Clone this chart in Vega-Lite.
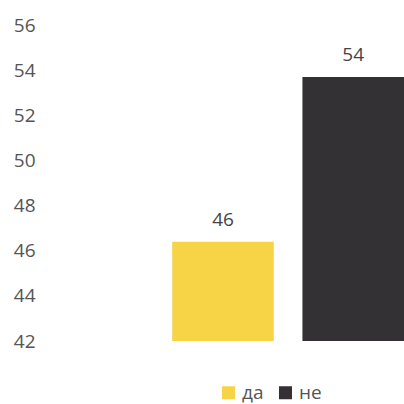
{
  "$schema": "https://vega.github.io/schema/vega-lite/v6.json",
  "autosize": "none",
  "width": 362,
  "height": 316,
  "padding": {"left": 42, "top": 25, "right": 0, "bottom": 63},
  "config": {"view": {"stroke": null}, "font": "Open Sans"},
  "data": {"values": [
    {"answer": "да", "pct": 46.4},
    {"answer": "не", "pct": 53.7}
  ]},
  "encoding": {
    "x": {"field": "answer", "type": "nominal", "axis": null,
      "scale": {"domain": ["да", "не"], "paddingInner": 0.22, "paddingOuter": 0.5, "align": 1}},
    "y": {"field": "pct", "type": "quantitative",
      "scale": {"domain": [42, 56], "zero": false, "nice": false},
      "axis": {"values": [42, 44, 46, 48, 50, 52, 54, 56], "title": null, "domain": false, "ticks": false, "grid": false,
        "labelFontSize": 19, "labelColor": "#555555", "labelPadding": 7, "labelFont": "Open Sans"}}
  },
  "layer": [
    {"mark": {"type": "bar", "clip": true},
     "encoding": {"color": {"field": "answer", "type": "nominal",
       "scale": {"domain": ["да", "не"], "range": ["#F7D346", "#333134"]},
       "legend": {"title": null, "orient": "none", "direction": "horizontal", "legendX": 177, "legendY": 358,
         "symbolType": "square", "symbolSize": 169, "symbolStrokeWidth": 0, "labelFontSize": 19, "labelColor": "#555555",
         "columnPadding": 12, "labelOffset": 4, "labelLimit": 0}}}},
    {"mark": {"type": "text", "baseline": "bottom", "dy": -12, "fontSize": 19, "color": "#444444"},
     "encoding": {"text": {"field": "pct", "type": "quantitative", "format": ".0f"}}}
  ]
}
